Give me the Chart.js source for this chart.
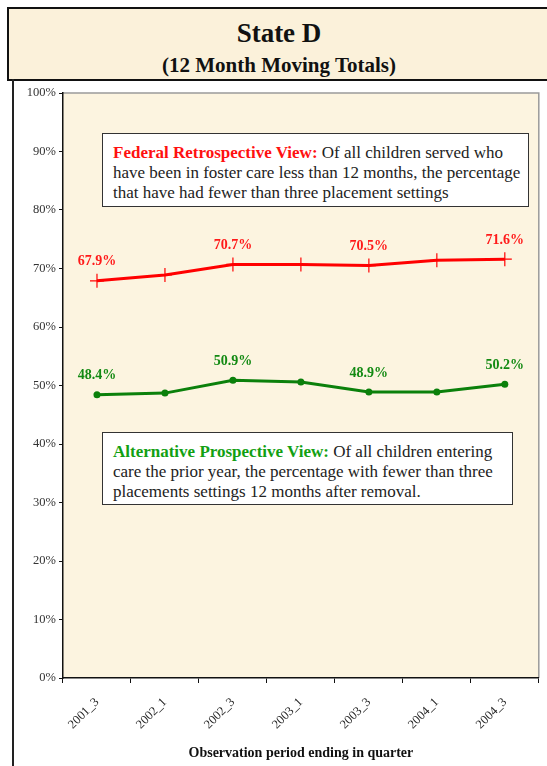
<!DOCTYPE html>
<html>
<head>
<meta charset="utf-8">
<script src="https://cdn.jsdelivr.net/npm/chart.js@4"></script>
<style>
  html, body { margin: 0; padding: 0; background: #fff; }
  body { width: 547px; height: 766px; position: relative; overflow: hidden; font-family: "Liberation Serif", serif; }
  #titleBox {
    position: absolute; left: 7px; top: 7px; width: 560px; height: 70px;
    border: 2px solid #111; background: #fbf1da; text-align: center;
  }
  #titleBox .t1 { position: absolute; left: 0; width: 540px; top: 9px; font-size: 27px; font-weight: bold; color: #111; }
  #titleBox .t2 { position: absolute; left: 0; width: 540px; top: 44px; font-size: 21px; font-weight: bold; color: #111; }
  #frameLine { position: absolute; left: 12px; top: 79px; width: 2px; height: 700px; background: #222; }
  #wrap { position: absolute; left: 14px; top: 80px; width: 533px; height: 686px; }
  .note {
    position: absolute; background: #fff; border: 1.5px solid #333;
    font-size: 17px; line-height: 20px; color: #222; padding: 9px 0 0 10px; box-sizing: border-box;
    white-space: nowrap;
  }
  .note b.red { color: #ff1010; }
  .note b.green { color: #12a012; }
</style>
</head>
<body>
<div id="titleBox"><div class="t1">State D</div><div class="t2">(12 Month Moving Totals)</div></div>
<div id="frameLine"></div>
<div id="wrap"><canvas id="chart" width="533" height="686"></canvas></div>
<div class="note" style="left:102px; top:133px; width:427px; height:74px;">
  <b class="red">Federal Retrospective View:</b> Of all children served who<br>have been in foster care less than 12 months, the percentage<br>that have had fewer than three placement settings
</div>
<div class="note" style="left:102px; top:432px; width:411px; height:73px;">
  <b class="green">Alternative Prospective View:</b> Of all children entering<br>care the prior year, the percentage with fewer than three<br>placements settings 12 months after removal.
</div>
<script>
const quarters = ['2001_3', '2002_1', '2002_3', '2003_1', '2003_3', '2004_1', '2004_3'];
const federalValues = [67.9, 68.9, 70.7, 70.7, 70.5, 71.4, 71.6];
const alternativeValues = [48.4, 48.7, 50.9, 50.6, 48.9, 48.9, 50.2];
const labelledPoints = [0, 2, 4, 6];
const yTicks = [0, 10, 20, 30, 40, 50, 60, 70, 80, 90, 100];

// parchment background + gray frame on top/right
const plotBackground = {
  id: 'plotBackground',
  beforeDraw(chart) {
    const { ctx, chartArea: a } = chart;
    ctx.save();
    ctx.fillStyle = '#fcf4e0';
    ctx.fillRect(a.left, a.top, a.right - a.left, a.bottom - a.top);
    ctx.strokeStyle = '#9a9a9a';
    ctx.lineWidth = 1.5;
    ctx.beginPath();
    ctx.moveTo(a.left, a.top);
    ctx.lineTo(a.right, a.top);
    ctx.lineTo(a.right, a.bottom);
    ctx.stroke();
    ctx.restore();
  }
};

// value labels above selected points
const pointLabels = {
  id: 'pointLabels',
  afterDatasetsDraw(chart) {
    const { ctx } = chart;
    ctx.save();
    ctx.font = 'bold 14px "Liberation Serif", serif';
    ctx.textAlign = 'center';
    ctx.textBaseline = 'middle';
    chart.data.datasets.forEach((ds, i) => {
      const meta = chart.getDatasetMeta(i);
      ctx.fillStyle = ds.labelColor;
      labelledPoints.forEach(idx => {
        const pt = meta.data[idx];
        ctx.fillText(ds.data[idx].toFixed(1) + '%', pt.x, pt.y - 19);
      });
    });
    ctx.restore();
  }
};

const ctx = document.getElementById('chart').getContext('2d');
new Chart(ctx, {
  type: 'line',
  data: {
    labels: quarters,
    datasets: [{
      label: 'Federal Retrospective View',
      data: federalValues,
      borderColor: '#ff0000',
      backgroundColor: '#ff0000',
      labelColor: '#ff1a1a',
      borderWidth: 3,
      pointStyle: 'cross',
      pointRadius: 7,
      pointBorderWidth: 1.2,
      tension: 0
    }, {
      label: 'Alternative Prospective View',
      data: alternativeValues,
      borderColor: '#0b800b',
      backgroundColor: '#0b800b',
      labelColor: '#138a13',
      borderWidth: 3,
      pointStyle: 'circle',
      pointRadius: 3.5,
      pointBorderWidth: 0,
      tension: 0
    }]
  },
  options: {
    responsive: false,
    animation: false,
    layout: { padding: { top: 13, right: 7, bottom: 0, left: 0 } },
    plugins: { legend: { display: false }, tooltip: { enabled: false } },
    scales: {
      x: {
        offset: true,
        grid: { display: true, offset: true, drawOnChartArea: false, drawTicks: true, tickLength: 5, color: '#111' },
        border: { display: true, color: '#111', width: 1.5 },
        ticks: {
          minRotation: 45, maxRotation: 45, padding: 12,
          color: '#222', font: { family: '"Liberation Serif", serif', size: 12.5 }
        },
        title: {
          display: true, text: 'Observation period ending in quarter',
          color: '#111', font: { family: '"Liberation Serif", serif', size: 14, weight: 'bold' },
          padding: { top: 0, bottom: 4 }
        },
        afterFit(scale) { scale.height = 88; }
      },
      y: {
        min: 0, max: 100,
        afterBuildTicks(scale) { scale.ticks = yTicks.map(v => ({ value: v })); },
        grid: { display: true, drawOnChartArea: false, drawTicks: true, tickLength: 4, color: '#111' },
        border: { display: true, color: '#111', width: 1.5 },
        ticks: {
          padding: 3, color: '#333',
          font: { family: '"Liberation Serif", serif', size: 12.5 },
          callback: v => v + '%'
        },
        afterFit(scale) { scale.width = 49; }
      }
    }
  },
  plugins: [plotBackground, pointLabels]
});
</script>
</body>
</html>
